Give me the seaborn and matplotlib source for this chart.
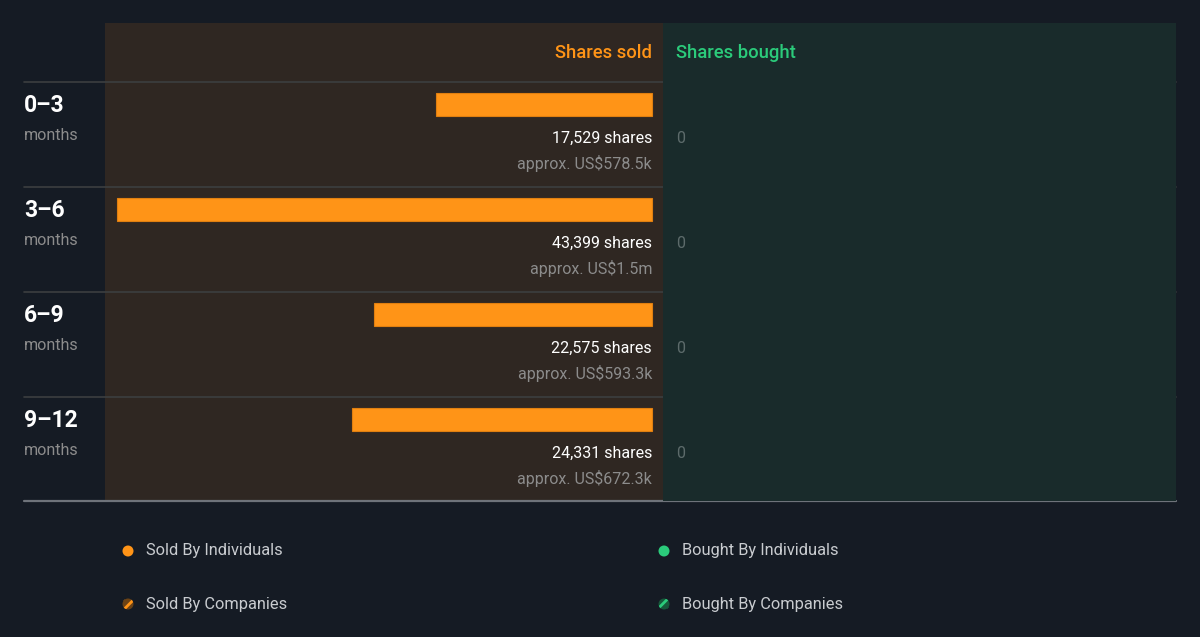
import matplotlib
matplotlib.use("Agg")
import matplotlib.pyplot as plt
import matplotlib.transforms as mtransforms
from matplotlib.patches import Circle
import seaborn as sns
import pandas as pd

# ---- data ----
periods = ["0\u20133", "3\u20136", "6\u20139", "9\u201312"]
shares_sold = [17529, 43399, 22575, 24331]
value_sold = ["approx. US$578.5k", "approx. US$1.5m", "approx. US$593.3k", "approx. US$672.3k"]
shares_bought = [0, 0, 0, 0]
legend_labels = ["Sold By Individuals", "Bought By Individuals", "Sold By Companies", "Bought By Companies"]

# ---- style ----
BG = "#151b24"
SOLD_BG = "#2f2722"
BOUGHT_BG = "#192b2b"
ORANGE = "#ff9417"
GREEN = "#2bcb7b"
WHITE = "#ffffff"
GRAY = "#8c8c8c"
ZERO_GRAY = "#5d6b6b"
LEG_TXT = "#c9ccd0"

sns.set_theme(style="white")
plt.rcParams["font.family"] = ["Roboto", "DejaVu Sans"]
plt.rcParams["hatch.linewidth"] = 2.0

W, H = 1200, 637
fig = plt.figure(figsize=(12, 6.37), dpi=100, facecolor=BG)

def fx(px):
    return px / W

def fy(py):
    return 1 - py / H

top, bottom = 23, 501
ax = fig.add_axes([fx(105), fy(bottom), fx(663) - fx(105), (bottom - top) / H], facecolor=SOLD_BG)
axb = fig.add_axes([fx(663), fy(bottom), fx(1176) - fx(663), (bottom - top) / H], facecolor=BOUGHT_BG)

df = pd.DataFrame({"period": periods, "sold": shares_sold, "bought": shares_bought})

sns.barplot(data=df, x="sold", y="period", orient="h", color=ORANGE, saturation=1,
            width=0.22, ax=ax, edgecolor="#e07f10", linewidth=0.8)
sns.barplot(data=df, x="bought", y="period", orient="h", color=GREEN, saturation=1,
            width=0.22, ax=axb, linewidth=0, edgecolor="none")

u = 81.12  # shares per pixel
ax.set_xlim((652 - 105) * u, -11 * u)
axb.set_xlim(-13 * u, (1176 - 676) * u)
for a in (ax, axb):
    a.set_ylim(3.776, -0.776)
    a.set_axis_off()

for a, c in ((ax, SOLD_BG), (axb, BOUGHT_BG)):
    a.add_patch(plt.Rectangle((0, 0), 1, 1, transform=a.transAxes, facecolor=c, zorder=-5, lw=0))

# headers
ax.text(0, -0.495, "Shares sold", ha="right", va="center", color=ORANGE, fontsize=13.3, fontweight="medium")
axb.text(0, -0.495, "Shares bought", ha="left", va="center", color=GREEN, fontsize=13.3, fontweight="medium")

# per-row annotations
blend = mtransforms.blended_transform_factory(fig.transFigure, ax.transData)
for i, (p, s, v, b) in enumerate(zip(periods, shares_sold, value_sold, shares_bought)):
    ax.text(0, i + 0.32, f"{s:,} shares", ha="right", va="center", color=WHITE, fontsize=11.5)
    ax.text(0, i + 0.565, v, ha="right", va="center", color=GRAY, fontsize=11.5)
    axb.text(0, i + 0.32, f"{b:,}", ha="left", va="center", color=ZERO_GRAY, fontsize=11.5)
    ax.text(fx(24), i + 0.005, p, ha="left", va="center", color=WHITE, fontsize=16.5,
            fontweight="bold", transform=blend, clip_on=False)
    ax.text(fx(24), i + 0.295, "months", ha="left", va="center", color=GRAY, fontsize=11.6,
            transform=blend, clip_on=False)
    ax.plot([fx(24), fx(1176)], [i - 0.214, i - 0.214], transform=blend, color="#3c3f40",
            lw=1.2, clip_on=False, zorder=5)
ax.plot([fx(24), fx(1176)], [3.776, 3.776], transform=blend, color="#6e737a",
        lw=1.6, clip_on=False, zorder=5)

# legend (overlay axes in pixel units)
leg = fig.add_axes([0, 0, 1, 1], facecolor="none")
leg.set_xlim(0, W)
leg.set_ylim(H, 0)
leg.set_axis_off()
pos = [(128, 551), (664, 551), (128, 604), (664, 604)]
cols = [ORANGE, GREEN, ORANGE, GREEN]
dims = ["#6b4215", "#16583a"]
for k, ((x, y), lab, c) in enumerate(zip(pos, legend_labels, cols)):
    if k < 2:
        leg.add_patch(Circle((x, y), 5.5, facecolor=c, edgecolor="none"))
    else:
        leg.add_patch(Circle((x, y), 5.5, facecolor=dims[k - 2], edgecolor=c, hatch="///", lw=0))
    leg.text(x + 18, y, lab, ha="left", va="center", color=LEG_TXT, fontsize=11.8)

fig.savefig("out.png", dpi=100, facecolor=BG)
